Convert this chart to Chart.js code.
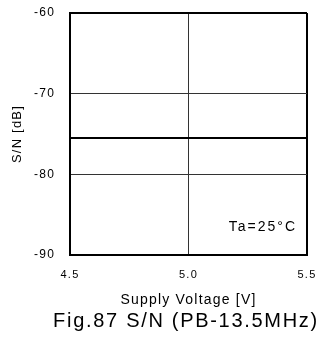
<!DOCTYPE html>
<html>
<head>
<meta charset="utf-8">
<script src="https://cdn.jsdelivr.net/npm/chart.js@4/dist/chart.umd.min.js"></script>
<style>
  html, body { margin: 0; padding: 0; background: #fff; }
  canvas { display: block; }
</style>
</head>
<body>
<canvas id="chart" width="322" height="338"></canvas>
<script>
// Measured S/N over the supply voltage range
const voltages = [4.5, 5.0, 5.5];
const snValues = [-75.5, -75.5, -75.5];

// Axis ticks and captions
const xTickLabels = ['4.5', '5.0', '5.5'];
const yTickValues = [-90, -80, -70, -60];
const xAxisTitle = 'Supply Voltage [V]';
const yAxisTitle = 'S/N [dB]';
const figureTitle = 'Fig.87 S/N (PB-13.5MHz)';
const conditionLabel = 'Ta=25°C';

const FONT = '"Liberation Sans", Arial, sans-serif';

// Slightly spaced lettering for every text, plus the caption texts
const captions = {
  id: 'captions',
  beforeDraw(chart) {
    chart.ctx.letterSpacing = '1.2px';
  },
  afterDraw(chart) {
    const { ctx, chartArea } = chart;
    ctx.save();
    ctx.fillStyle = '#000';
    ctx.textBaseline = 'alphabetic';

    ctx.font = '14px ' + FONT;
    ctx.letterSpacing = '2px';
    ctx.textAlign = 'right';
    ctx.fillText(conditionLabel, chartArea.right - 10, 231);

    ctx.font = '20px ' + FONT;
    ctx.letterSpacing = '1.7px';
    ctx.textAlign = 'center';
    ctx.fillText(figureTitle, 186, 327);
    ctx.restore();
    ctx.letterSpacing = '0px';
  }
};

const edgeWidth = (edge) => (c) => (c.tick && c.tick.value === edge ? 2 : 1);
const edgeColor = (edge) => (c) => (c.tick && c.tick.value === edge ? '#000' : '#333');

new Chart(document.getElementById('chart'), {
  type: 'line',
  data: {
    datasets: [{
      data: voltages.map((v, i) => ({ x: v, y: snValues[i] })),
      borderColor: '#000',
      borderWidth: 2,
      pointRadius: 0,
      tension: 0,
      fill: false
    }]
  },
  options: {
    responsive: false,
    animation: false,
    devicePixelRatio: 1,
    layout: { padding: { top: 13, right: 15, left: 0, bottom: 0 } },
    plugins: {
      legend: { display: false },
      tooltip: { enabled: false },
      title: { display: false }
    },
    scales: {
      x: {
        type: 'linear',
        min: 4.5,
        max: 5.5,
        afterFit: (s) => {
          s.height = 83;
          s.paddingLeft = 0;
          s.paddingRight = 0;
        },
        afterBuildTicks: (s) => { s.ticks = voltages.map((v) => ({ value: v })); },
        ticks: {
          padding: 13,
          color: '#000',
          font: { family: FONT, size: 11 },
          callback: (v) => {
            const i = voltages.indexOf(v);
            return i >= 0 ? xTickLabels[i] : '';
          }
        },
        grid: {
          drawTicks: false,
          color: edgeColor(5.5),
          lineWidth: edgeWidth(5.5)
        },
        border: { display: true, color: '#000', width: 2 },
        title: {
          display: true,
          text: xAxisTitle,
          color: '#000',
          font: { family: FONT, size: 14 },
          padding: { top: 0, bottom: 29 }
        }
      },
      y: {
        min: -90,
        max: -60,
        afterFit: (s) => {
          s.width = 70;
          s.paddingTop = 0;
          s.paddingBottom = 0;
        },
        afterBuildTicks: (s) => { s.ticks = yTickValues.map((v) => ({ value: v })); },
        ticks: {
          padding: 15,
          color: '#000',
          font: { family: FONT, size: 12 },
          callback: (v) => String(v)
        },
        grid: {
          drawTicks: false,
          color: edgeColor(-60),
          lineWidth: edgeWidth(-60)
        },
        border: { display: true, color: '#000', width: 2 },
        title: {
          display: true,
          text: yAxisTitle,
          color: '#000',
          font: { family: FONT, size: 13 },
          padding: { top: 10, bottom: 0 }
        }
      }
    }
  },
  plugins: [captions]
});
</script>
</body>
</html>
